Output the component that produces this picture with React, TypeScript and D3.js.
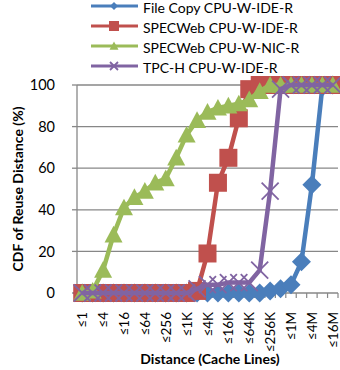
import React, { useEffect } from 'react';
import * as d3 from 'd3';

// categories: reuse distance buckets (powers of 2)
const categories = ['≤1', '≤2', '≤4', '≤8', '≤16', '≤32', '≤64', '≤128', '≤256', '≤512', '≤1K', '≤2K', '≤4K', '≤8K', '≤16K', '≤32K', '≤64K', '≤128K', '≤256K', '≤512K', '≤1M', '≤2M', '≤4M', '≤8M', '≤16M'];
const shownLabels = ['≤1', '≤4', '≤16', '≤64', '≤256', '≤1K', '≤4K', '≤16K', '≤64K', '≤256K', '≤1M', '≤4M', '≤16M'];
const yTicks = [0, 20, 40, 60, 80, 100];

const fileCopyIDE = [0, 0, 0, 0, 0, 0, 0, 0, 0, 0, 0, 0, 0, 0, 0, 0, 0, 0, 1, 2, 4, 15, 52, 99, 100];
const specwebIDE = [0, 0, 0, 0, 0, 0, 0, 0, 0, 0, 0, 1, 19, 53, 65, 84, 98, 100, 100, 100, 100, 100, 100, 100, 100];
const specwebNIC = [0, 1, 11, 28, 41, 46, 49, 53, 55, 65, 76, 83, 87, 89, 90, 91, 93, 97, 100, 100, 100, 100, 100, 100, 100];
const tpchIDE = [0, 0, 0, 0, 0, 0, 0, 0, 0, 0, 0, 2, 4, 4, 5, 5, 5, 11, 49, 98, 100, 100, 100, 100, 100];

const seriesNames = ['File Copy CPU-W-IDE-R', 'SPECWeb CPU-W-IDE-R', 'SPECWeb CPU-W-NIC-R', 'TPC-H CPU-W-IDE-R'];
const seriesValues = [fileCopyIDE, specwebIDE, specwebNIC, tpchIDE];
const colors = ['#4a7ebb', '#c0504d', '#9bbb59', '#8064a2'];
const shapes = ['diamond', 'square', 'triangle', 'cross'];

const W = 340, H = 370;
const left = 77, right = 338, top = 85, bottom = 293;
const font = 'Lato, "Open Sans", sans-serif';

const Marker = ({ shape, x, y, s, color }: any) => {
    if (shape === 'diamond') {
        return <polygon points={`${x},${y - s} ${x + s},${y} ${x},${y + s} ${x - s},${y}`} fill={color} />;
    }
    if (shape === 'square') {
        return <rect x={x - s} y={y - s} width={s * 2} height={s * 2} fill={color} />;
    }
    if (shape === 'triangle') {
        return <polygon points={`${x},${y - s} ${x + s},${y + s * 0.85} ${x - s},${y + s * 0.85}`} fill={color} />;
    }
    return (
        <path d={`M${x - s},${y - s}L${x + s},${y + s}M${x - s},${y + s}L${x + s},${y - s}`} stroke={color} strokeWidth={1.8} fill="none" />
    );
};

const markerSize = [9.5, 9, 9, 8.5];
const legendSize = [4, 5, 4.5, 4];

const App = () => {
    useEffect(() => {
        document.body.style.margin = '0';
    }, []);

    const xScale = d3.scaleBand().domain(categories).range([left, right]).padding(0);
    const yScale = d3.scaleLinear().domain([0, 100]).range([bottom, top]);
    const cx = (c: string) => (xScale(c) as number) + xScale.bandwidth() / 2;
    const line = d3.line<number>().x((_, i) => cx(categories[i])).y(v => yScale(v));

    return (
        <svg width={W} height={H} style={{ position: 'absolute', left: 0, top: 0, fontFamily: font }}>
            {/* gridlines */}
            {yTicks.map(t => (
                <g key={t}>
                    <line x1={left} x2={right} y1={yScale(t)} y2={yScale(t)} stroke="#878787" strokeWidth={1.3} />
                    <line x1={left - 5} x2={left} y1={yScale(t)} y2={yScale(t)} stroke="#878787" strokeWidth={1.3} />
                    <text x={55} y={yScale(t)} dy="0.36em" textAnchor="end" fontSize={14.5} fill="#000">{t}</text>
                </g>
            ))}
            <line x1={left} x2={left} y1={top} y2={bottom} stroke="#878787" strokeWidth={1.3} />
            {categories.map((c, i) => (
                <line key={c} x1={left + (i + 1) * xScale.bandwidth()} x2={left + (i + 1) * xScale.bandwidth()} y1={bottom} y2={bottom + 5} stroke="#878787" strokeWidth={1.2} />
            ))}

            {/* series */}
            {seriesValues.map((vals, si) => (
                <g key={si}>
                    <path d={line(vals) as string} fill="none" stroke={colors[si]} strokeWidth={4.5} strokeLinejoin="round" />
                    {vals.map((v, i) => (
                        <Marker key={i} shape={shapes[si]} x={cx(categories[i])} y={yScale(v)} s={markerSize[si]} color={colors[si]} />
                    ))}
                </g>
            ))}

            {/* x labels */}
            {shownLabels.map(l => (
                <text key={l} transform={`translate(${cx(l) + 5},312) rotate(-90)`} textAnchor="end" fontSize={13.5} fill="#000">{l}</text>
            ))}
            <text x={210} y={364} textAnchor="middle" fontSize={14} fontWeight="bold">Distance (Cache Lines)</text>
            <text transform={`translate(23,${(top + bottom) / 2}) rotate(-90)`} textAnchor="middle" fontSize={14} fontWeight="bold">CDF of Reuse Distance (%)</text>

            {/* legend */}
            {seriesNames.map((n, i) => {
                const ly = 6 + i * 20;
                return (
                    <g key={n}>
                        <line x1={91} x2={138} y1={ly} y2={ly} stroke={colors[i]} strokeWidth={2.8} />
                        <Marker shape={shapes[i]} x={114} y={ly} s={legendSize[i]} color={colors[i]} />
                        <text x={143} y={ly + 2} dy="0.35em" fontSize={14} fill="#000">{n}</text>
                    </g>
                );
            })}
        </svg>
    );
};

export default App;
